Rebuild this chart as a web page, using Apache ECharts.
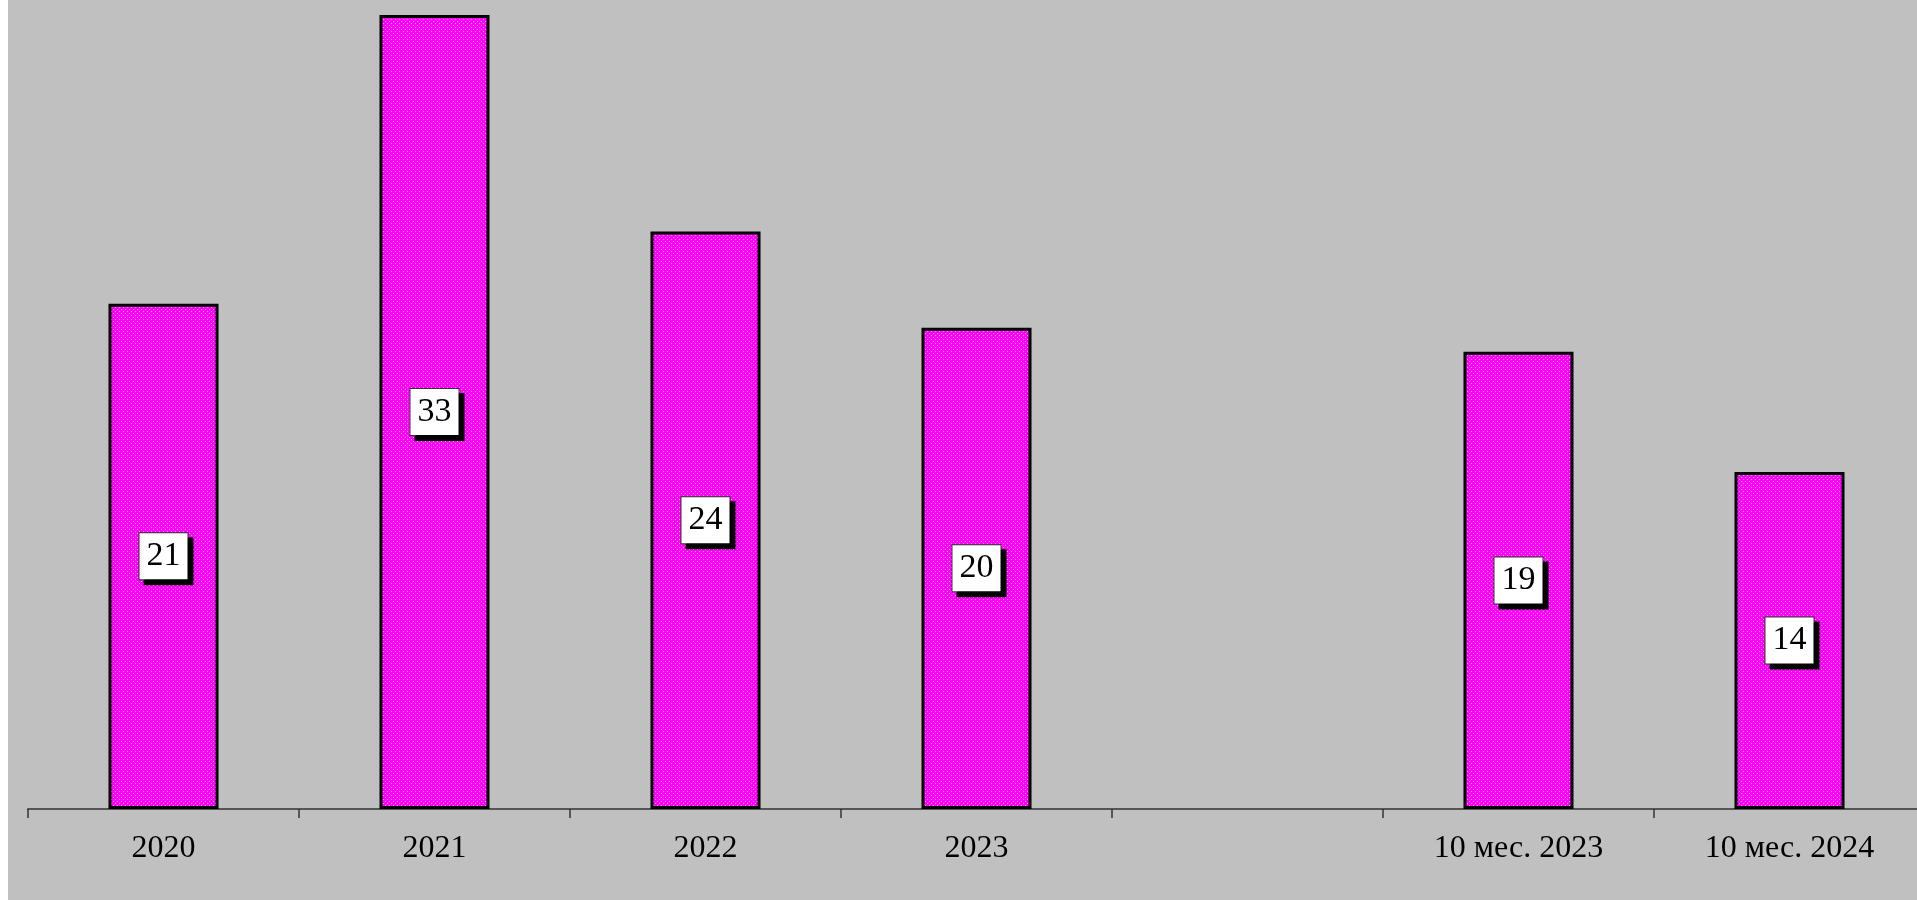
<!DOCTYPE html>
<html>
<head>
<meta charset="utf-8">
<script src="https://cdn.jsdelivr.net/npm/echarts@6/dist/echarts.min.js"></script>
<style>
html,body{margin:0;padding:0;background:#fff;width:1917px;height:900px;overflow:hidden;}
#c{position:absolute;left:8px;top:0;width:1917px;height:900px;background:#c0c0c0;}
</style>
</head>
<body>
<div id="c"></div>
<script>
const categories = ['2020', '2021', '2022', '2023', '', '10 мес. 2023', '10 мес. 2024'];
const values = [21, 33, 24, 20, null, 19, 14];

// dotted magenta pattern
const pc = document.createElement('canvas');
pc.width = 4; pc.height = 4;
const px = pc.getContext('2d');
px.fillStyle = '#ff00ff';
px.fillRect(0, 0, 4, 4);
px.fillStyle = '#ffa8e0';
px.fillRect(1, 1, 1, 1);
px.fillRect(3, 3, 1, 1);

const chart = echarts.init(document.getElementById('c'));
chart.setOption({
  animation: false,
  backgroundColor: '#c0c0c0',
  grid: { left: 20, right: 0, top: 0, bottom: 91, containLabel: false },
  xAxis: {
    type: 'category',
    data: categories,
    axisLine: { lineStyle: { color: '#555', width: 2 } },
    axisTick: { show: true, length: 9, lineStyle: { color: '#333', width: 1.5 } },
    axisLabel: { color: '#000', fontFamily: 'Liberation Serif', fontSize: 32, margin: 24, interval: 0 }
  },
  yAxis: {
    type: 'value', min: 0, max: 33.62,
    show: false, splitLine: { show: false }
  },
  series: [{
    type: 'bar',
    data: values,
    barWidth: '40.6%',
    itemStyle: {
      color: { image: pc, repeat: 'repeat' },
      borderColor: '#000',
      borderWidth: 3
    },
    label: {
      show: true,
      position: 'inside',
      color: '#000',
      fontFamily: 'Liberation Serif',
      fontSize: 34,
      lineHeight: 34,
      backgroundColor: '#fff',
      borderColor: '#333',
      borderWidth: 1,
      padding: [6, 7, 6, 7],
      shadowColor: '#000',
      shadowBlur: 0,
      shadowOffsetX: 5,
      shadowOffsetY: 5
    }
  }]
});
</script>
</body>
</html>
